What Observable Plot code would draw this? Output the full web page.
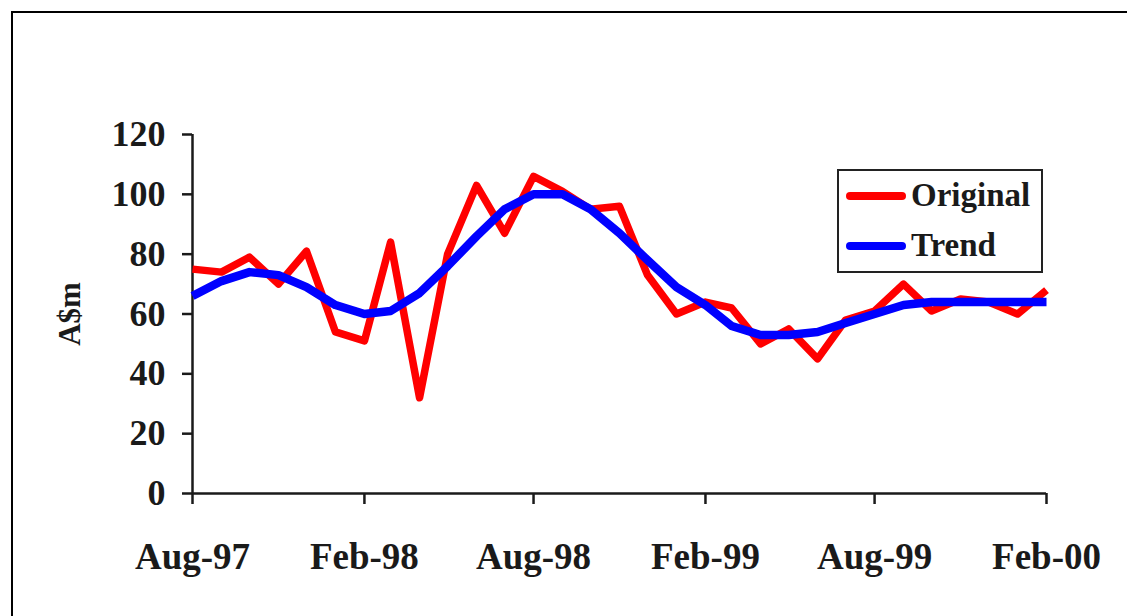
<!DOCTYPE html>
<html>
<head>
<meta charset="utf-8">
<script src="https://cdn.jsdelivr.net/npm/d3@7"></script>
<script src="https://cdn.jsdelivr.net/npm/@observablehq/plot@0.6"></script>
<style>
  html, body { margin: 0; padding: 0; background: #fff; overflow: hidden; }
  #wrap { position: relative; width: 1127px; height: 616px; font-family: "Liberation Serif", "Times New Roman", serif; }
  #border { position: absolute; left: 11px; top: 11px; width: 2000px; height: 2000px; border-left: 2.5px solid #000; border-top: 2.5px solid #000; pointer-events: none; }
  #chart { position: absolute; left: 0; top: 0; }
  #legend { position: absolute; left: 837px; top: 169px; width: 202px; height: 100px; border: 2px solid #222; background: #fff; }
  .item { position: absolute; left: 7px; display: flex; align-items: center; font-weight: bold; font-size: 33px; color: #1a1a1a; }
  .sw { width: 60px; height: 8px; border-radius: 4px; margin-right: 5px; }
</style>
</head>
<body>
<div id="wrap">
  <div id="chart"></div>
  <div id="border"></div>
  <div id="legend"></div>
</div>
<script>
// Months (monthly observations)
const months = [
  "1997-08","1997-09","1997-10","1997-11","1997-12",
  "1998-01","1998-02","1998-03","1998-04","1998-05","1998-06","1998-07",
  "1998-08","1998-09","1998-10","1998-11","1998-12",
  "1999-01","1999-02","1999-03","1999-04","1999-05","1999-06","1999-07",
  "1999-08","1999-09","1999-10","1999-11","1999-12",
  "2000-01","2000-02"
];
// Original series (A$m)
const original = [75,74,79,70,81,54,51,84,32,80,103,87,106,101,95,96,73,60,64,62,50,55,45,58,61,70,61,65,64,60,68];
// Trend series (A$m)
const trend = [66,71,74,73,69,63,60,61,67,76,86,95,100,100,95,87,78,69,63,56,53,53,54,57,60,63,64,64,64,64,64];
// Axis ticks
const xTickMonths = ["1997-08","1998-02","1998-08","1999-02","1999-08","2000-02"];
const xTickLabels = ["Aug-97","Feb-98","Aug-98","Feb-99","Aug-99","Feb-00"];
const yTicks = [0,20,40,60,80,100,120];
const seriesNames = ["Original","Trend"];
const seriesColors = ["#ff0000","#0000ff"];
const yLabel = "A$m";

const parse = d3.utcParse("%Y-%m");
const rows = [];
months.forEach((m, i) => {
  rows.push({date: parse(m), value: original[i], series: "Original"});
});
months.forEach((m, i) => {
  rows.push({date: parse(m), value: trend[i], series: "Trend"});
});
const tickDates = xTickMonths.map(parse);
const labelFor = new Map(xTickMonths.map((m, i) => [+parse(m), xTickLabels[i]]));

const chart = Plot.plot({
  width: 1127,
  height: 616,
  marginLeft: 192,
  marginRight: 81,
  marginTop: 134,
  marginBottom: 123,
  style: {fontFamily: "Liberation Serif, Times New Roman, serif", color: "#1a1a1a", background: "transparent", overflow: "visible"},
  x: {type: "utc", domain: [parse(months[0]), parse(months[months.length - 1])]},
  y: {domain: [0, 120]},
  marks: [
    Plot.axisY({ticks: yTicks, tickSize: 10, tickPadding: 17, fontSize: 36, fontWeight: "bold", label: null, strokeWidth: 2.5}),
    Plot.axisX({ticks: tickDates, tickFormat: d => labelFor.get(+d), tickSize: 11, tickPadding: 38, fontSize: 37, fontWeight: "bold", label: null, strokeWidth: 2.5}),
    Plot.ruleY([0], {stroke: "#1a1a1a", strokeWidth: 2.5}),
    Plot.ruleX([parse(months[0])], {stroke: "#1a1a1a", strokeWidth: 2.5}),
    Plot.line(rows.filter(d => d.series === "Original"), {x: "date", y: "value", stroke: seriesColors[0], strokeWidth: 7.5, strokeLinejoin: "round", strokeLinecap: "butt"}),
    Plot.line(rows.filter(d => d.series === "Trend"), {x: "date", y: "value", stroke: seriesColors[1], strokeWidth: 8.5, strokeLinejoin: "round", strokeLinecap: "butt", curve: "linear"}),
    Plot.text([yLabel], {frameAnchor: "left", text: d => d, rotate: -90, dx: -122, fontSize: 31, fontWeight: "bold", textAnchor: "middle", lineAnchor: "middle", fill: "#1a1a1a"})
  ]
});
document.getElementById("chart").appendChild(chart);

const legend = document.getElementById("legend");
seriesNames.forEach((name, i) => {
  const item = document.createElement("div");
  item.className = "item";
  item.style.top = (i === 0 ? 6 : 56) + "px";
  const sw = document.createElement("div");
  sw.className = "sw";
  sw.style.background = seriesColors[i];
  const t = document.createElement("span");
  t.textContent = name;
  item.appendChild(sw);
  item.appendChild(t);
  legend.appendChild(item);
});
</script>
</body>
</html>
